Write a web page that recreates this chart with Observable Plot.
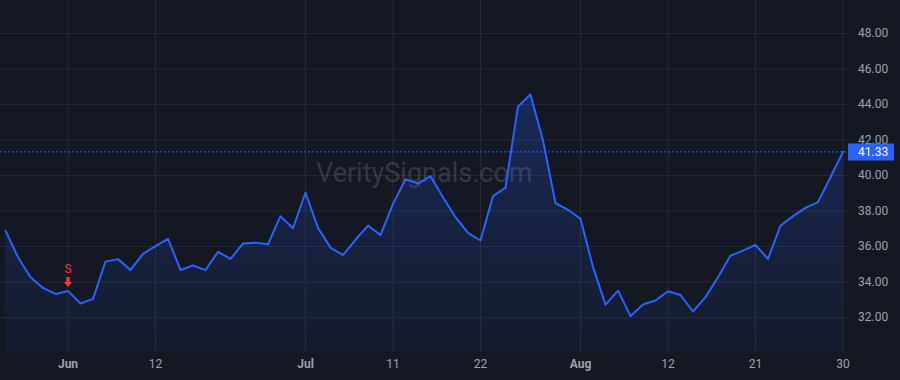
<!DOCTYPE html>
<html>
<head>
<meta charset="utf-8">
<script src="https://cdn.jsdelivr.net/npm/d3@7"></script>
<script src="https://cdn.jsdelivr.net/npm/@observablehq/plot@0.6"></script>
<style>
  html, body { margin: 0; padding: 0; background: #141823; }
  #chart { width: 900px; height: 380px; overflow: hidden; }
</style>
</head>
<body>
<div id="chart"></div>
<script>
// ---- data (trading days, 2024) ----
const dates = [
  "2024-05-24","2024-05-28","2024-05-29","2024-05-30","2024-05-31",
  "2024-06-03","2024-06-04","2024-06-05","2024-06-06","2024-06-07","2024-06-10","2024-06-11","2024-06-12",
  "2024-06-13","2024-06-14","2024-06-17","2024-06-18","2024-06-20","2024-06-21","2024-06-24","2024-06-25",
  "2024-06-26","2024-06-27","2024-06-28",
  "2024-07-01","2024-07-02","2024-07-03","2024-07-05","2024-07-08","2024-07-09","2024-07-10","2024-07-11",
  "2024-07-12","2024-07-15","2024-07-16","2024-07-17","2024-07-18","2024-07-19","2024-07-22","2024-07-23",
  "2024-07-24","2024-07-25","2024-07-26","2024-07-29","2024-07-30","2024-07-31",
  "2024-08-01","2024-08-02","2024-08-05","2024-08-06","2024-08-07","2024-08-08","2024-08-09","2024-08-12",
  "2024-08-13","2024-08-14","2024-08-15","2024-08-16","2024-08-19","2024-08-20","2024-08-21","2024-08-22",
  "2024-08-23","2024-08-26","2024-08-27","2024-08-28","2024-08-29","2024-08-30"
];
const values = [
  36.90, 35.40, 34.27, 33.67, 33.33, 33.50, 32.79, 33.05, 35.15, 35.29,
  34.68, 35.59, 36.02, 36.43, 34.68, 34.93, 34.67, 35.70, 35.30, 36.17,
  36.21, 36.13, 37.71, 37.03, 39.03, 37.05, 35.94, 35.52, 36.38, 37.18,
  36.64, 38.40, 39.79, 39.55, 39.96, 38.78, 37.65, 36.77, 36.34, 38.84,
  39.31, 43.89, 44.56, 41.97, 38.44, 38.07, 37.56, 34.84, 32.73, 33.52,
  32.08, 32.73, 32.96, 33.48, 33.27, 32.34, 33.15, 34.27, 35.49, 35.77,
  36.09, 35.30, 37.18, 37.71, 38.18, 38.50, 39.90, 41.33
];
const tickDates = ["2024-06-03","2024-06-12","2024-07-01","2024-07-11","2024-07-22","2024-08-01","2024-08-12","2024-08-21","2024-08-30"];
const tickLabels = ["Jun","12","Jul","11","22","Aug","12","21","30"];
const yTicks = [32, 34, 36, 38, 40, 42, 44, 46, 48];
const lastPrice = 41.33;
const signalDates = ["2024-06-03"];
const signalLabels = ["S"];
const watermark = "VeritySignals.com";

// ---- style ----
const BG = "#141823";
const GRID = "#252935";
const AXIS = "#9da1ab";
const BLUE = "#2962ff";
const RED = "#f23645";
const yMin = 30.03, yMax = 49.86;

const data = dates.map((d, i) => ({date: d, value: values[i]}));
const ticks = tickDates.map((d, i) => ({date: d, label: tickLabels[i], month: isNaN(+tickLabels[i])}));
const signals = signalDates.map((d, i) => ({date: d, value: values[dates.indexOf(d)], label: signalLabels[i]}));

// down-arrow symbol
const arrowDown = {
  draw(ctx, size) {
    const k = Math.sqrt(size / Math.PI) / 5;
    ctx.moveTo(-1.8 * k, -5 * k);
    ctx.lineTo(1.8 * k, -5 * k);
    ctx.lineTo(1.8 * k, 0);
    ctx.lineTo(4.2 * k, 0);
    ctx.lineTo(0, 5 * k);
    ctx.lineTo(-4.2 * k, 0);
    ctx.lineTo(-1.8 * k, 0);
    ctx.closePath();
  }
};

const chart = Plot.plot({
  width: 900,
  height: 380,
  marginTop: 0,
  marginBottom: 28,
  marginLeft: 5,
  marginRight: 57.5,
  style: {background: BG, color: AXIS, fontFamily: "Roboto, 'Liberation Sans', sans-serif", fontSize: "12px", overflow: "visible"},
  x: {type: "point", domain: dates, padding: 0, axis: null},
  y: {domain: [yMin, yMax], axis: null},
  marks: [
    Plot.ruleY(yTicks, {stroke: GRID, insetLeft: -5, insetRight: -5.5}),
    Plot.ruleX(tickDates, {stroke: GRID}),
    Plot.text([watermark], {frameAnchor: "middle", text: d => d, fontSize: 27, fill: "#9598a1", fillOpacity: 0.26, dy: -3}),
    Plot.areaY(data, {x: "date", y1: yMin, y2: "value", fill: "url(#areaGrad)"}),
    Plot.lineY(data, {x: "date", y: "value", stroke: BLUE, strokeWidth: 2}),
    Plot.ruleY([lastPrice], {stroke: BLUE, strokeWidth: 1, strokeDasharray: "2,2", insetLeft: -5, insetRight: -5}),
    Plot.text(yTicks, {y: d => d, text: d => d.toFixed(2), frameAnchor: "right", textAnchor: "start", dx: 15, fill: AXIS}),
    Plot.ruleY([lastPrice], {stroke: BLUE, strokeWidth: 17, insetLeft: 843, insetRight: -51.5}),
    Plot.text([lastPrice], {y: d => d, text: d => d.toFixed(2), frameAnchor: "right", textAnchor: "start", dx: 15, fill: "#ffffff"}),
    Plot.text(ticks.filter(t => t.month), {x: "date", text: "label", frameAnchor: "bottom", dy: 15, fontWeight: "bold", fill: AXIS}),
    Plot.text(ticks.filter(t => !t.month), {x: "date", text: "label", frameAnchor: "bottom", dy: 15, fill: AXIS}),
    Plot.dot(signals, {x: "date", y: "value", symbol: arrowDown, r: 5, fill: RED, stroke: "none", dy: -9}),
    Plot.text(signals, {x: "date", y: "value", text: "label", dy: -22, fill: RED, fontSize: 12})
  ]
});

// gradient for the area fill
const svg = chart.tagName.toLowerCase() === "svg" ? chart : chart.querySelector("svg");
const ns = "http://www.w3.org/2000/svg";
const defs = document.createElementNS(ns, "defs");
const grad = document.createElementNS(ns, "linearGradient");
grad.setAttribute("id", "areaGrad");
grad.setAttribute("x1", "0"); grad.setAttribute("y1", "0");
grad.setAttribute("x2", "0"); grad.setAttribute("y2", "1");
[["0%", 0.24], ["100%", 0.04]].forEach(([off, op]) => {
  const s = document.createElementNS(ns, "stop");
  s.setAttribute("offset", off);
  s.setAttribute("stop-color", BLUE);
  s.setAttribute("stop-opacity", op);
  grad.appendChild(s);
});
defs.appendChild(grad);
svg.insertBefore(defs, svg.firstChild);

document.getElementById("chart").append(chart);
</script>
</body>
</html>
